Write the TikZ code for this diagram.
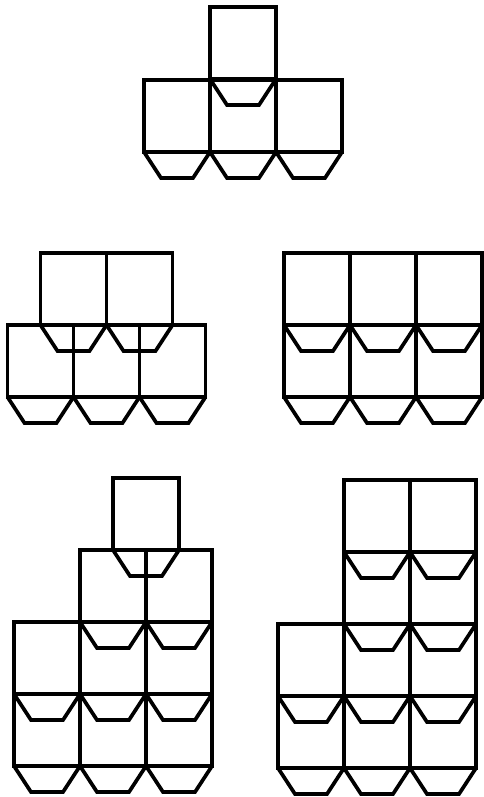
\documentclass[tikz,border=0pt]{standalone}
\begin{document}
\begin{tikzpicture}[x=1pt, y=-1pt, line width=3.7pt,
  cell/.pic={
    \draw (0,0) rectangle (66,72);
    \draw (0,72) -- (17,98) -- (49,98) -- (66,72);
  }]
  \useasboundingbox (0,0) rectangle (483,797);

  % One cell on a row of three
  \pic at (210,7) {cell};
  \foreach \x in {144,210,276} \pic at (\x,80) {cell};

  % Two cells set half a cell over on three
  \foreach \x in {40.5,106.5} \pic at (\x,253) {cell};
  \foreach \x in {7.5,73.5,139.5} \pic at (\x,325) {cell};

  % Three on three
  \foreach \y in {253,325}
    \foreach \x in {284,350,416} \pic at (\x,\y) {cell};

  % Stepped stack
  \pic at (113,478) {cell};
  \foreach \x in {80,146} \pic at (\x,550) {cell};
  \foreach \y in {622,694}
    \foreach \x in {14,80,146} \pic at (\x,\y) {cell};

  % Two tall columns with a short one
  \foreach \y in {480,552}
    \foreach \x in {344,410} \pic at (\x,\y) {cell};
  \foreach \y in {624,696}
    \foreach \x in {278,344,410} \pic at (\x,\y) {cell};
\end{tikzpicture}
\end{document}
